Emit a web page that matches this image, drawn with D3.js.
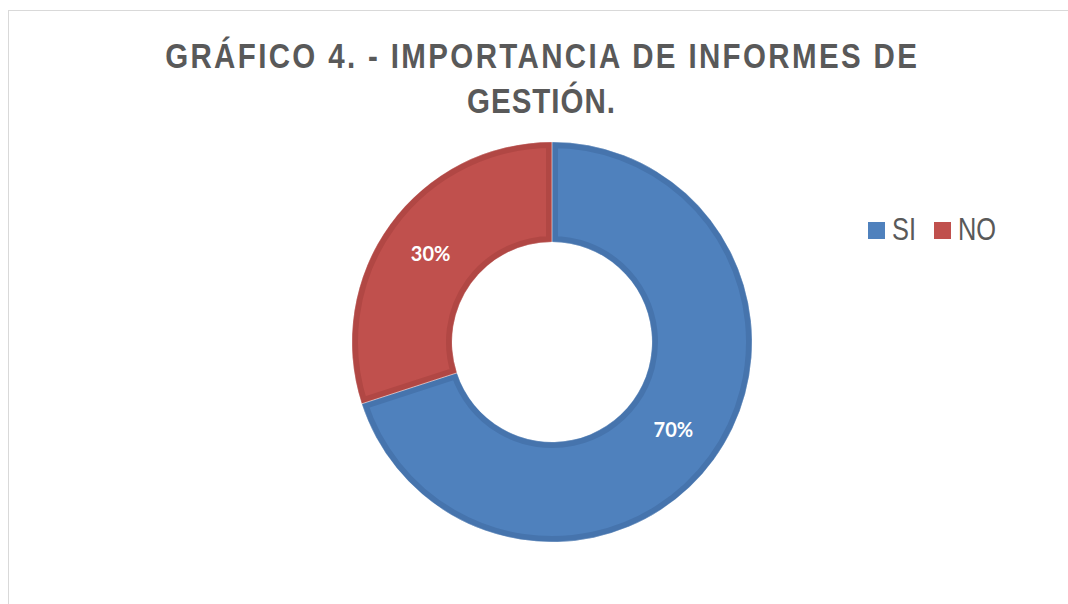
<!doctype html>
<html lang="es">
<head>
<meta charset="utf-8">
<title>Gráfico 4</title>
<script src="https://d3js.org/d3.v7.min.js"></script>
<style>
  body { margin: 0; background: #fff; }
  svg { display: block; }
</style>
</head>
<body>
<div id="chart"></div>
<script>
var width = 1068;
var height = 604;

// data
var categories = ["SI", "NO"];
var values = [70, 30];
var labels = ["70%", "30%"];
var titleLines = ["GRÁFICO 4. - IMPORTANCIA DE INFORMES DE", "GESTIÓN."];

var colors = d3.scaleOrdinal().domain(categories).range(["#4F81BD", "#C0504D"]);
var edgeColors = d3.scaleOrdinal().domain(categories).range(["#4674AD", "#B14744"]);

// no narrow font installed: squeeze Liberation Sans instead
var narrow = 0.82;

var svg = d3.select("#chart").append("svg")
    .attr("width", width)
    .attr("height", height);

//chart frame (only top and left show inside the window)
svg.append("rect")
    .attr("x", 8.5)
    .attr("y", 10.5)
    .attr("width", 1200)
    .attr("height", 800)
    .attr("fill", "white")
    .attr("stroke", "#d9d9d9")
    .attr("stroke-width", 1);

//title, spaced out to fill its width
var title = svg.append("g").attr("class", "title");
var titleWidths = [752, 148];
titleLines.forEach(function(line, i) {
    var t = title.append("text")
        .attr("x", 0)
        .attr("y", 0)
        .attr("text-anchor", "middle")
        .style("font-family", "'Liberation Sans', Arial, sans-serif")
        .style("font-weight", "bold")
        .style("font-size", "36px")
        .attr("fill", "#595959")
        .text(line);
    var w = t.node().getComputedTextLength();
    var spacing = (titleWidths[i] / narrow - w) / (line.length - 1);
    t.style("letter-spacing", spacing + "px")
        .attr("x", spacing / 2)
        .attr("transform", "translate(541," + (68 + i * 45) + ") scale(" + narrow + ",1)");
});

//donut
var cx = 552, cy = 342;
var outerR = 200, innerR = 100;

var pie = d3.pie().sort(null).value(function(d) { return d; });
var arc = d3.arc().innerRadius(innerR).outerRadius(outerR);
var arcs = pie(values);

var g = svg.append("g").attr("transform", "translate(" + cx + "," + cy + ")");
var defs = svg.append("defs");

arcs.forEach(function(a, i) {
    defs.append("clipPath")
        .attr("id", "clip" + i)
        .append("path")
        .attr("d", arc(a));
});

g.selectAll("path.slice")
    .data(arcs)
    .enter().append("path")
    .attr("class", "slice")
    .attr("d", arc)
    .attr("clip-path", function(d, i) { return "url(#clip" + i + ")"; })
    .attr("fill", function(d, i) { return colors(categories[i]); })
    .attr("stroke", function(d, i) { return edgeColors(categories[i]); })
    .attr("stroke-width", 12);

//thin white seam between slices
g.selectAll("path.seam")
    .data(arcs)
    .enter().append("path")
    .attr("class", "seam")
    .attr("d", arc)
    .attr("fill", "none")
    .attr("stroke", "rgba(255,255,255,0.5)")
    .attr("stroke-width", 0.6);

//percent labels
g.selectAll("text.pct")
    .data(arcs)
    .enter().append("text")
    .attr("class", "pct")
    .attr("transform", function(d) { return "translate(" + arc.centroid(d) + ")"; })
    .attr("dy", "0.36em")
    .attr("text-anchor", "middle")
    .style("font-family", "Lato, 'Open Sans', sans-serif")
    .style("font-weight", "bold")
    .style("font-size", "20px")
    .attr("fill", "white")
    .text(function(d, i) { return labels[i]; });

//legend
var legendX = [868, 934];
var legend = svg.append("g").attr("class", "legend");
categories.forEach(function(c, i) {
    legend.append("rect")
        .attr("x", legendX[i])
        .attr("y", 222)
        .attr("width", 17)
        .attr("height", 17)
        .attr("fill", colors(c));
    legend.append("text")
        .attr("x", 0)
        .attr("y", 0)
        .attr("transform", "translate(" + (legendX[i] + 24) + ",240) scale(" + narrow + ",1)")
        .style("font-family", "'Liberation Sans', Arial, sans-serif")
        .style("font-size", "31px")
        .attr("fill", "#595959")
        .text(c);
});
</script>
</body>
</html>
